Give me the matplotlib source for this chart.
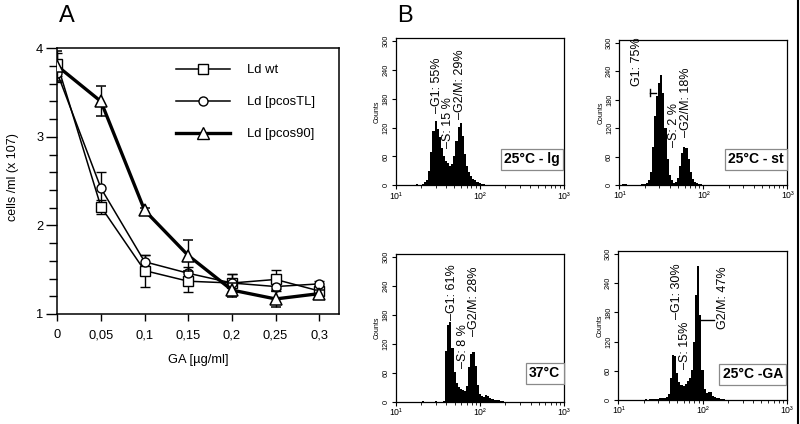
import numpy as np
import matplotlib
matplotlib.use('Agg')
import matplotlib.pyplot as plt
from matplotlib.lines import Line2D
from matplotlib.ticker import FixedLocator, MultipleLocator, LogLocator, NullFormatter

plt.rcParams['font.family'] = ['Liberation Sans', 'DejaVu Sans']

# ---- panel A: cell counts vs GA
ga = [0, 0.05, 0.1, 0.15, 0.2, 0.25, 0.3]
ga_labels = ['0', '0,05', '0,1', '0,15', '0,2', '0,25', '0,3']
wt = [3.82, 2.21, 1.49, 1.37, 1.35, 1.39, 1.26]
wt_err = [0.13, 0.08, 0.18, 0.12, 0.10, 0.11, 0.03]
tl = [3.72, 2.42, 1.59, 1.46, 1.35, 1.31, 1.34]
tl_err = [0.10, 0.18, 0.08, 0.07, 0.10, 0.05, 0.03]
p90 = [3.80, 3.40, 2.17, 1.66, 1.27, 1.17, 1.23]
p90_err = [0.17, 0.17, 0.03, 0.17, 0.08, 0.09, 0.04]

# ---- panel B: DNA histograms, log10 channel start, step, counts
step = 0.025
lg_start = 1.20
lg_counts = [1, 0, 2, 0, 1, 3, 6, 12, 30, 70, 112, 134, 118, 100, 78, 62, 50, 46, 40, 45,
             62, 92, 122, 130, 102, 66, 40, 28, 20, 14, 10, 7, 5, 3, 2, 1, 1]
st_start = 1.00
st_counts = [2, 1, 2, 2, 1, 0, 1, 0, 1, 0, 1, 2, 3, 5, 10, 28, 80, 145, 188, 215,
             232, 195, 120, 55, 22, 10, 5, 6, 15, 40, 68, 80, 78, 55, 28, 12, 6, 4, 3, 2, 1]
t37_start = 1.30
t37_counts = [0, 1, 0, 0, 0, 0, 0, 1, 0, 0, 0, 2, 105, 160, 165, 112, 62, 38, 30, 27,
              24, 22, 32, 72, 100, 104, 75, 35, 17, 11, 10, 14, 12, 7, 5, 4, 3, 3, 2, 1]
gaa_start = 1.00
gaa_counts = [2, 1, 1, 0, 1, 1, 0, 1, 1, 1, 0, 1, 1, 2, 1, 2, 2, 2, 3, 3,
              4, 4, 5, 6, 12, 45, 92, 90, 55, 36, 30, 28, 32, 38, 45, 62, 120, 215, 275, 175,
              62, 22, 14, 16, 17, 9, 7, 5, 4, 3, 2, 1]

fig = plt.figure(figsize=(8, 4.24), dpi=100)
W, H = 800.0, 424.0

def px_axes(l, t, r, b):
    return fig.add_axes([l / W, 1 - b / H, (r - l) / W, (b - t) / H])

# ----- panel A
ax = px_axes(57.3, 48.3, 339, 314)
ax.errorbar(ga, wt, yerr=wt_err, color='black', lw=1.1, marker='s', ms=6.5, mfc='white',
            mec='black', mew=1.0, capsize=3.5, elinewidth=1.0, zorder=3)
ax.errorbar(ga, tl, yerr=tl_err, color='black', lw=1.1, marker='o', ms=6.5, mfc='white',
            mec='black', mew=1.0, capsize=3.5, elinewidth=1.0, zorder=3)
ax.errorbar(ga, p90, yerr=p90_err, color='black', lw=2.4, marker='^', ms=9, mfc='white',
            mec='black', mew=1.1, capsize=3.5, elinewidth=1.0, zorder=4)
ax.set_xlim(0, 0.3226)
ax.set_ylim(1, 4)
ax.xaxis.set_major_locator(FixedLocator(ga))
ax.set_xticklabels(ga_labels, fontsize=9.3)
ax.yaxis.set_minor_locator(MultipleLocator(0.2))
ax.set_yticks([1, 2, 3, 4])
ax.set_yticklabels(['1', '2', '3', '4'], fontsize=9.3)
ax.tick_params(axis='x', direction='out', length=5, width=1, pad=6)
ax.tick_params(axis='y', which='major', direction='out', length=8, width=1, pad=2)
ax.tick_params(axis='y', which='minor', direction='out', length=6, width=1)
for s in ax.spines.values():
    s.set_linewidth(1.1)

handles = [Line2D([], [], color='black', lw=1.1, marker='s', ms=6.5, mfc='white', mec='black'),
           Line2D([], [], color='black', lw=1.1, marker='o', ms=6.5, mfc='white', mec='black'),
           Line2D([], [], color='black', lw=2.4, marker='^', ms=9, mfc='white', mec='black')]
ax.legend(handles, ['Ld wt', 'Ld [pcosTL]', 'Ld [pcos90]'], loc='upper left',
          bbox_to_anchor=(0.42, 0.94), frameon=False, fontsize=9.4, handlelength=4.2,
          handletextpad=1.3, labelspacing=1.52, borderpad=0, borderaxespad=0, numpoints=1)

fig.text(13.5 / W, 1 - 177 / H, 'cells /ml (x 107)', rotation=90, ha='center', va='center', fontsize=9)
fig.text(198 / W, 1 - 360 / H, 'GA [µg/ml]', ha='center', va='center', fontsize=9.3)
fig.text(67 / W, 1 - 16 / H, 'A', ha='center', va='center', fontsize=17)
fig.text(405 / W, 1 - 16 / H, 'B', ha='center', va='center', fontsize=17)


def histo(box, start, counts, tag, tag_y, marks, lines=()):
    a = px_axes(*box)
    edges = 10 ** (start - step / 2 + step * np.arange(len(counts) + 1))
    a.stairs(counts, edges, fill=True, color='black', lw=0)
    a.set_xscale('log')
    a.set_xlim(10, 1000)
    a.set_ylim(0, 306)
    a.set_yticks([0, 60, 120, 180, 240, 300])
    a.set_yticklabels(['0', '60', '120', '180', '240', '300'], rotation=90, va='center', fontsize=5.3)
    a.set_xticks([10, 100, 1000])
    a.set_xticklabels(['10¹', '10²', '10³'], fontsize=6.3)
    a.xaxis.set_minor_locator(LogLocator(base=10, subs=np.arange(2, 10)))
    a.xaxis.set_minor_formatter(NullFormatter())
    a.tick_params(which='major', direction='out', length=3, width=0.8, pad=1.5)
    a.tick_params(which='minor', direction='out', length=2, width=0.6)
    a.set_ylabel('Counts', fontsize=5, labelpad=1)
    for s in a.spines.values():
        s.set_linewidth(0.9)
    for x, y, txt in marks:
        a.text(x, y, txt, rotation=90, ha='center', va='bottom', fontsize=9)
    for xs, ys in lines:
        a.plot(xs, ys, color='black', lw=1)
    a.text(0.978, tag_y, tag, transform=a.transAxes, ha='right', va='center', fontsize=10,
           fontweight='bold', bbox=dict(boxstyle='square,pad=0.25', fc='white', ec='#8a8a8a', lw=0.9))
    return a

histo((395.7, 38.3, 563.5, 185.3), lg_start, lg_counts, '25°C - lg', 0.178,
      [(31, 150, '–G1: 55%'), (41.7, 77, '–S: 15 %'), (59, 139, '–G2/M: 29%')])
histo((619.3, 40, 787.3, 185), st_start, st_counts, '25°C - st', 0.178,
      [(16.4, 208, 'G1: 75%'), (44.8, 81, '–S: 2 %'), (62.2, 102, '–G2/M: 18%')],
      [([23.2, 23.2], [187, 203]), ([23.2, 27.5], [195, 195])])
histo((395.7, 254.3, 564, 401.7), t37_start, t37_counts, '37°C', 0.193,
      [(46.1, 169, '–G1: 61%'), (63.4, 70, '–S: 8 %'), (84.9, 136, '–G2/M: 28%')])
histo((618.3, 251, 786.7, 400), gaa_start, gaa_counts, '25°C -GA', 0.173,
      [(49.2, 166, '–G1: 30%'), (61.9, 64, '–S: 15%'), (174, 145, 'G2/M: 47%')],
      [([95.5, 138], [164, 164])])

fig.add_artist(Line2D([797.5 / W, 797.5 / W], [0, 1], color='black', lw=1.5))

fig.savefig('out.png', dpi=100)
